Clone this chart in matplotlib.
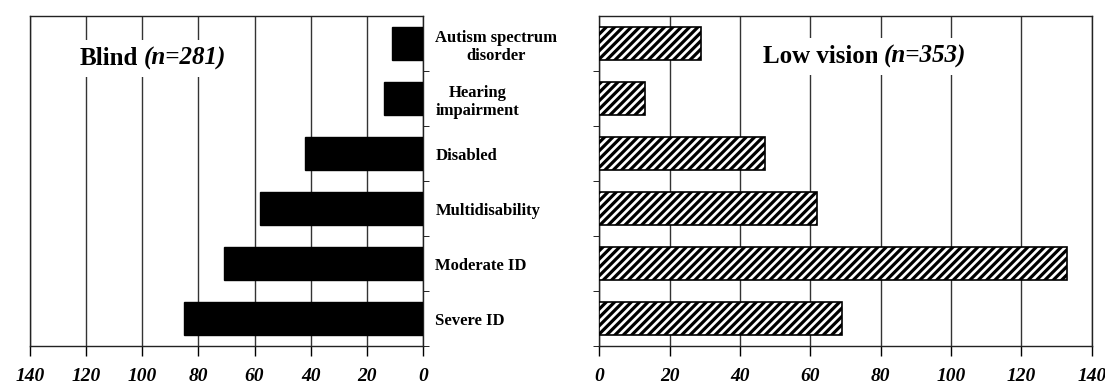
import numpy as np
import matplotlib
matplotlib.use("Agg")
from matplotlib import pyplot as plt

plt.rcParams["font.family"] = ["Liberation Serif", "DejaVu Serif"]
plt.rcParams["hatch.linewidth"] = 2.3

categories = [
    "Autism spectrum\ndisorder",
    "Hearing\nimpairment",
    "Disabled",
    "Multidisability",
    "Moderate ID",
    "Severe ID",
]
blind = [11, 14, 42, 58, 71, 85]
low_vision = [29, 13, 47, 62, 133, 69]
xticks = [0, 20, 40, 60, 80, 100, 120, 140]

fig = plt.figure(figsize=(11.05, 3.85), dpi=100)
ax1 = fig.add_axes([0.0271, 0.1013, 0.3557, 0.8571])
ax2 = fig.add_axes([0.5424, 0.1013, 0.4456, 0.8571])

y = np.arange(len(categories))

ax1.barh(y, blind, height=0.6, color="black", edgecolor="black", zorder=3)
ax2.barh(y, low_vision, height=0.6, color="white", edgecolor="black",
         hatch="////", linewidth=1.2, zorder=3)

for ax in (ax1, ax2):
    ax.set_ylim(5.5, -0.5)
    ax.set_xticks(xticks)
    ax.set_xticklabels([str(v) for v in xticks], fontsize=14,
                       fontweight="bold", fontstyle="italic")
    ax.tick_params(axis="x", direction="out", length=7, width=1, pad=9)
    ax.set_yticks(np.arange(0.5, 6, 1), minor=True)
    ax.grid(axis="x", color="#333333", linewidth=1, zorder=0)
    for s in ax.spines.values():
        s.set_linewidth(1)
        s.set_color("#222222")

ax1.set_xlim(140, 0)
ax2.set_xlim(0, 140)

# left panel: category labels on the right side
ax1.yaxis.tick_right()
ax1.set_yticks(y)
ax1.set_yticklabels(categories, fontsize=12, fontweight="bold")
ax1.tick_params(axis="y", which="major", length=0, pad=9)
ax1.tick_params(axis="y", which="minor", direction="out", length=4, right=True, left=False)
for lbl in ax1.get_yticklabels():
    lbl.set_multialignment("center")

ax2.set_yticks([])
ax2.set_yticks(np.arange(0.5, 6, 1), minor=True)
ax2.tick_params(axis="y", which="minor", direction="out", length=4, left=True)

box = dict(facecolor="white", edgecolor="none", pad=5)
t1 = ax1.text(0.127, 0.852, "Blind", transform=ax1.transAxes, fontsize=18,
              fontweight="bold", va="baseline", ha="left", bbox=box, zorder=5)
ax1.annotate("(n=281)", xy=(1, 0), xycoords=t1, xytext=(4, 0),
             textcoords="offset points", fontsize=18, fontweight="bold",
             fontstyle="italic", va="bottom", ha="left", bbox=box, zorder=5)

t2 = ax2.text(0.3325, 0.858, "Low vision", transform=ax2.transAxes, fontsize=18,
              fontweight="bold", va="baseline", ha="left", bbox=box, zorder=5)
ax2.annotate("(n=353)", xy=(1, 0), xycoords=t2, xytext=(4, 0),
             textcoords="offset points", fontsize=18, fontweight="bold",
             fontstyle="italic", va="bottom", ha="left", bbox=box, zorder=5)

fig.savefig("out.png", dpi=100)
